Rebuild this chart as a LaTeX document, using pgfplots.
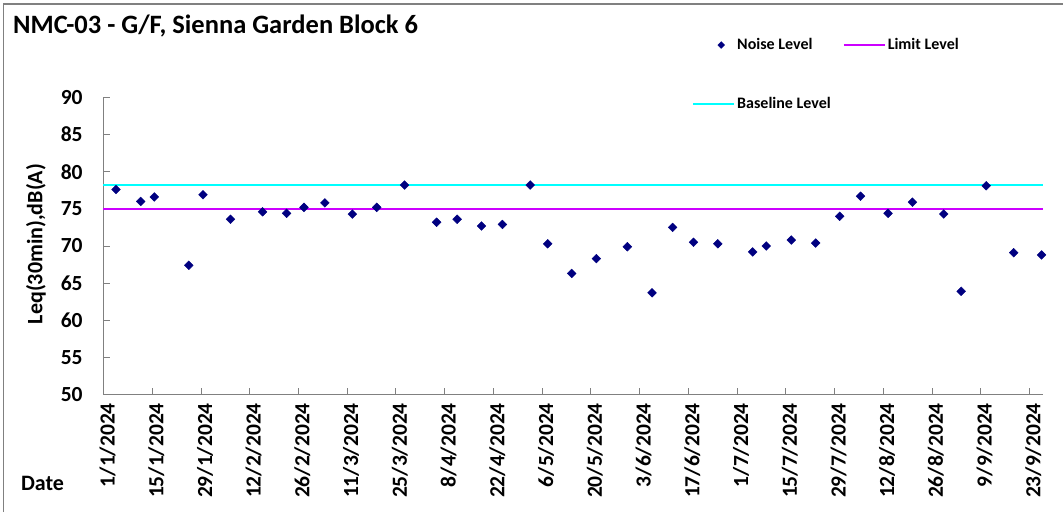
\documentclass[border=0pt]{standalone}
\usepackage{pgfplots}
\pgfplotsset{compat=1.18}
\usepackage{pgfplotstable}
\usepackage{fontspec}
\setmainfont{Carlito}
\definecolor{navyc}{RGB}{0,0,128}
\definecolor{limitc}{RGB}{204,0,255}
\definecolor{basec}{RGB}{0,255,255}
\definecolor{axgray}{RGB}{128,128,128}
\pgfplotstableread{
day val
3.6 77.6
10.7 76.0
14.6 76.6
24.5 67.4
28.6 76.9
36.5 73.6
45.7 74.6
52.6 74.4
57.6 75.2
63.6 75.8
71.5 74.3
78.5 75.2
86.5 78.2
95.7 73.2
101.6 73.6
108.6 72.7
114.6 72.9
122.6 78.2
127.6 70.3
134.5 66.3
141.6 68.3
150.5 69.9
157.6 63.7
163.5 72.5
169.5 70.5
176.5 70.3
186.5 69.2
190.4 70.0
197.6 70.8
204.6 70.4
211.5 74.0
217.5 76.7
225.4 74.4
232.4 75.9
241.4 74.3
246.4 63.9
253.6 78.1
261.5 69.1
269.5 68.8
}\noisedata
\begin{document}
\begin{tikzpicture}
\useasboundingbox (-103.5pt,-117.4pt) rectangle (959.5pt,394.6pt);
\draw[axgray, line width=1.2pt] (-100pt,-117.4pt) -- (-100pt,390.6pt) -- (959.5pt,390.6pt);
\begin{axis}[
  at={(0pt,0pt)}, anchor=south west,
  scale only axis, width=939.8pt, height=297.2pt,
  xmin=0, xmax=270, ymin=50, ymax=90,
  axis x line*=bottom, axis y line*=left,
  axis line style={axgray, line width=1pt},
  tick align=inside, major tick length=7pt,
  tick style={axgray, line width=0.8pt},
  xtick={0,14,...,266},
  xticklabels={1/1/2024,15/1/2024,29/1/2024,12/2/2024,26/2/2024,11/3/2024,25/3/2024,8/4/2024,22/4/2024,6/5/2024,20/5/2024,3/6/2024,17/6/2024,1/7/2024,15/7/2024,29/7/2024,12/8/2024,26/8/2024,9/9/2024,23/9/2024},
  ytick={50,55,...,90},
  /pgf/number format/assume math mode=true,
  tick label style={font=\fontsize{21.5}{24}\selectfont\bfseries},
  yticklabel style={anchor=east, inner sep=0pt, xshift=-20.7pt},
  xticklabel style={xshift=4pt, rotate=90, anchor=east, inner xsep=8.4pt, inner ysep=0pt},
  clip=false,
  legend columns=2,
  legend style={draw=none, fill=none, inner sep=0pt,
    at={(axis description cs:0.6262,1.205)}, anchor=north west,
    font=\fontsize{16}{19}\selectfont\bfseries,
    /tikz/every even column/.append style={column sep=10pt},
    row sep=42pt},
  legend cell align=left,
]
\addlegendimage{legend image code/.code={\path[draw=none, fill=none] (0pt,0pt) -- (41pt,0pt); \path[fill=navyc, draw=navyc, rotate around={45:(28pt,0pt)}] (25.6pt,-2.4pt) rectangle (30.4pt,2.4pt);}}
\addlegendentry{Noise Level}
\addlegendimage{legend image code/.code={\draw[limitc, line width=2pt] (0pt,0pt) -- (41pt,0pt);}}
\addlegendentry{Limit Level}
\addlegendimage{legend image code/.code={\draw[basec, line width=2pt] (0pt,0pt) -- (41pt,0pt);}}
\addlegendentry{Baseline Level}
\addplot[basec, line width=2.2pt, forget plot] coordinates {(0,78.2) (270,78.2)};
\addplot[limitc, line width=2.2pt, forget plot] coordinates {(0,75) (270,75)};
\addplot[only marks, mark=square*, mark size=3.1pt, mark options={rotate=45, fill=navyc, draw=navyc}, forget plot] table[x=day, y=val] {\noisedata};
\end{axis}
\node[anchor=base west, font=\fontsize{26.5}{31}\selectfont\bfseries, inner sep=0pt] at (-90.5pt,361.3pt) {NMC-03 - G/F, Sienna Garden Block 6};
\node[rotate=90, font=\fontsize{22}{26}\selectfont\bfseries, inner sep=0pt] at (-67.5pt,150.6pt) {Leq(30min),dB(A)};
\node[font=\fontsize{22}{26}\selectfont\bfseries, inner sep=0pt] at (-61pt,-88.4pt) {Date};
\end{tikzpicture}
\end{document}
